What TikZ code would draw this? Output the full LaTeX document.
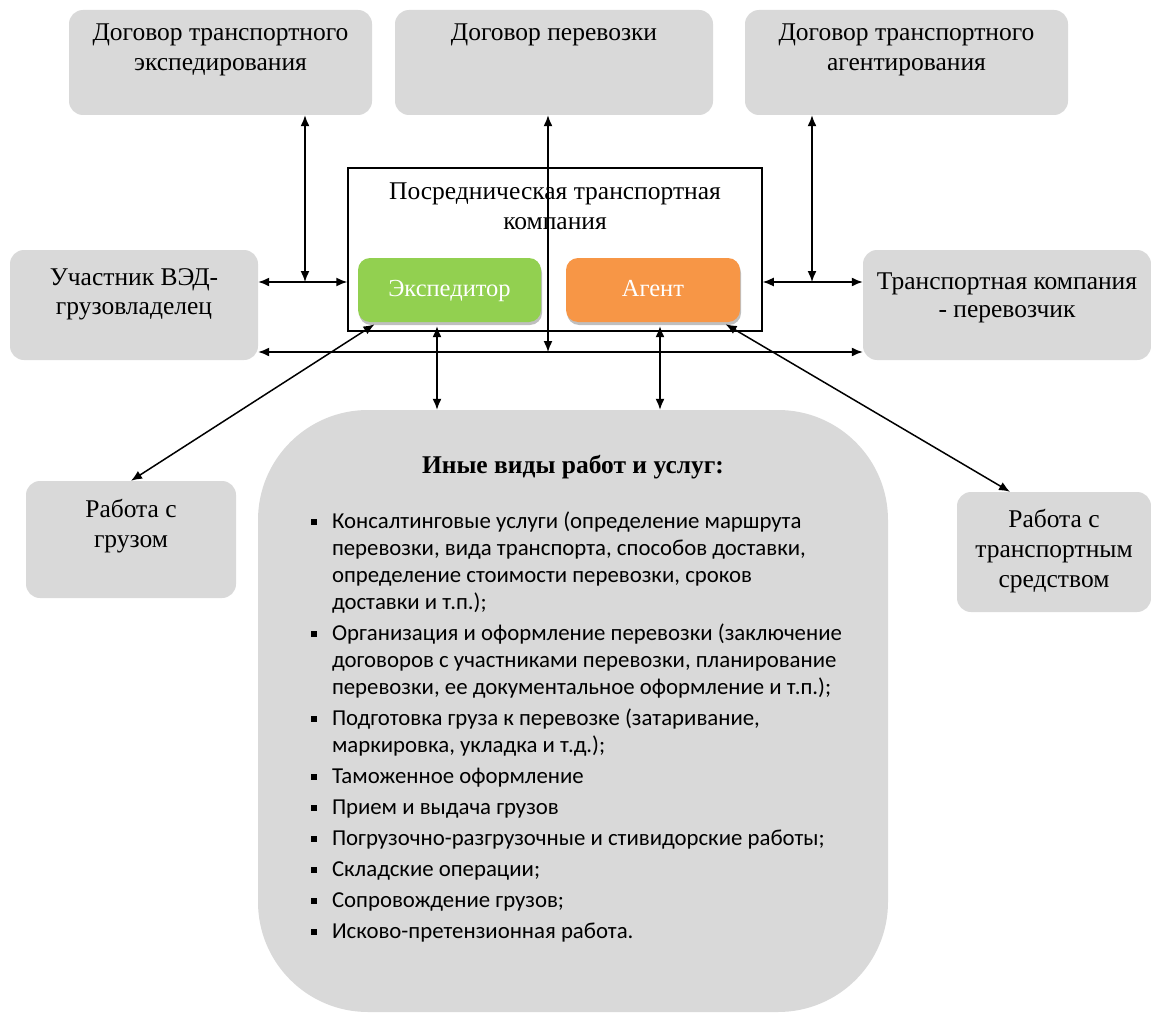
\documentclass[tikz,border=0pt]{standalone}
\usepackage{fontspec}
\setmainfont{Liberation Serif}
\newfontfamily\carlito{Carlito}
\usetikzlibrary{arrows.meta,shadows}
\definecolor{boxgray}{HTML}{D9D9D9}
\definecolor{expgreen}{HTML}{92D050}
\definecolor{agorange}{HTML}{F79646}
\newdimen\bxw
\newcommand\bxtext[3]{\bxw=#1\relax\vbox to #2{\offinterlineskip #3\vfil}}
\newcommand\bxline[2]{\kern#1\hbox to\bxw{\hfil\smash{#2}\hfil}}
\newcommand\bxitem[3]{\kern#1\hbox to\bxw{\hspace*{#2}\smash{#3}\hfil}}
\newcommand\bxbullet[2]{\kern#1\hbox to\bxw{\hspace*{53pt}\smash{\rule[3pt]{6pt}{6pt}}\hspace*{15pt}\smash{#2}\hfil}}
\begin{document}
\begin{tikzpicture}[x=1pt,y=-1pt,
  graybox/.style={fill=boxgray, rounded corners=14pt, inner sep=0pt, font=\fontsize{25.5}{30}\selectfont},
  framebox/.style={draw, line width=1.5pt, inner sep=0pt, font=\fontsize{25.5}{30}\selectfont},
  rolebox/.style={rounded corners=12pt, inner sep=0pt, text=white, font=\fontsize{24.5}{28}\selectfont,
    drop shadow={shadow xshift=1pt, shadow yshift=-3pt, opacity=0.25, fill=black}},
  bigbox/.style={fill=boxgray, rounded corners=110pt, inner sep=0pt},
  conn/.style={line width=1.5pt, {Latex[length=11pt,width=9pt]}-{Latex[length=11pt,width=9pt]}}]
\useasboundingbox (0,0) rectangle (1151,1014);

% top boxes
\node[graybox] (dte) at (220.5,62.5) {\bxtext{303pt}{105pt}{\bxline{31pt}{Договор транспортного}\bxline{30pt}{экспедирования}}};
\node[graybox] (dp) at (554,62.5) {\bxtext{318pt}{105pt}{\bxline{31pt}{Договор перевозки}}};
\node[graybox] (dta) at (906.5,62.5) {\bxtext{323pt}{105pt}{\bxline{31pt}{Договор транспортного}\bxline{30pt}{агентирования}}};

% side boxes
\node[graybox] (ved) at (134,305) {\bxtext{248pt}{110pt}{\bxline{35pt}{Участник ВЭД-}\bxline{29pt}{грузовладелец}}};
\node[graybox] (tk) at (1007,305) {\bxtext{288pt}{110pt}{\bxline{39pt}{Транспортная компания}\bxline{28pt}{- перевозчик}}};

% central frame
\node[framebox] (frame) at (555,249.5) {\bxtext{414pt}{163pt}{\bxline{31pt}{Посредническая транспортная}\bxline{30pt}{компания}}};
\node[rolebox, fill=expgreen] (exp) at (449.5,290) {\bxtext{183pt}{64pt}{\bxline{38pt}{Экспедитор}}};
\node[rolebox, fill=agorange] (ag) at (653,290) {\bxtext{174pt}{64pt}{\bxline{38pt}{Агент}}};

% lower boxes
\node[graybox] (gruz) at (131,539.5) {\bxtext{210pt}{117pt}{\bxline{36pt}{Работа с}\bxline{30pt}{грузом}}};
\node[graybox] (ts) at (1054,552) {\bxtext{194pt}{120pt}{\bxline{35pt}{Работа с}\bxline{30pt}{транспортным}\bxline{30pt}{средством}}};

% big box
\node[bigbox] (other) at (573,711) {\bxtext{630pt}{602pt}{%
  \bxline{63pt}{\fontsize{25.5}{28}\selectfont\bfseries Иные виды работ и услуг:}%
  \carlito\fontsize{22.8}{27}\selectfont
  \bxbullet{55pt}{Консалтинговые услуги (определение маршрута}%
  \bxitem{27pt}{74pt}{перевозки, вида транспорта, способов доставки,}%
  \bxitem{27pt}{74pt}{определение стоимости перевозки, сроков}%
  \bxitem{27pt}{74pt}{доставки и т.п.);}%
  \bxbullet{31pt}{Организация и оформление перевозки (заключение}%
  \bxitem{27pt}{74pt}{договоров с участниками перевозки, планирование}%
  \bxitem{27pt}{74pt}{перевозки, ее документальное оформление и т.п.);}%
  \bxbullet{31pt}{Подготовка груза к перевозке (затаривание,}%
  \bxitem{27pt}{74pt}{маркировка, укладка и т.д.);}%
  \bxbullet{31pt}{Таможенное оформление}%
  \bxbullet{31pt}{Прием и выдача грузов}%
  \bxbullet{31pt}{Погрузочно-разгрузочные и стивидорские работы;}%
  \bxbullet{31pt}{Складские операции;}%
  \bxbullet{31pt}{Сопровождение грузов;}%
  \bxbullet{31pt}{Исково-претензионная работа.}%
}};

% junction coordinates
\coordinate (jL) at (305,282);
\coordinate (jR) at (812,282);
\coordinate (jM) at (548,352);
\coordinate (xE) at (437,0);
\coordinate (xA) at (660,0);

% connectors
\draw[conn] (dte.south -| jL) -- (jL);
\draw[conn] (ved.east |- jL) -- (frame.west |- jL);
\draw[conn] (dp.south -| jM) -- (jM);
\draw[conn] (ved.east |- jM) -- (tk.west |- jM);
\draw[conn] (dta.south -| jR) -- (jR);
\draw[conn] (frame.east |- jR) -- (tk.west |- jR);
\draw[conn, shorten <=4pt] (exp.south -| xE) -- (other.north -| xE);
\draw[conn, shorten <=4pt] (ag.south -| xA) -- (other.north -| xA);
\draw[conn, shorten <=4pt] ([xshift=20pt]exp.south west) -- (gruz.north);
\draw[conn, shorten <=4pt] ([xshift=-18pt]ag.south east) -- ([xshift=-44pt]ts.north);
\end{tikzpicture}
\end{document}
